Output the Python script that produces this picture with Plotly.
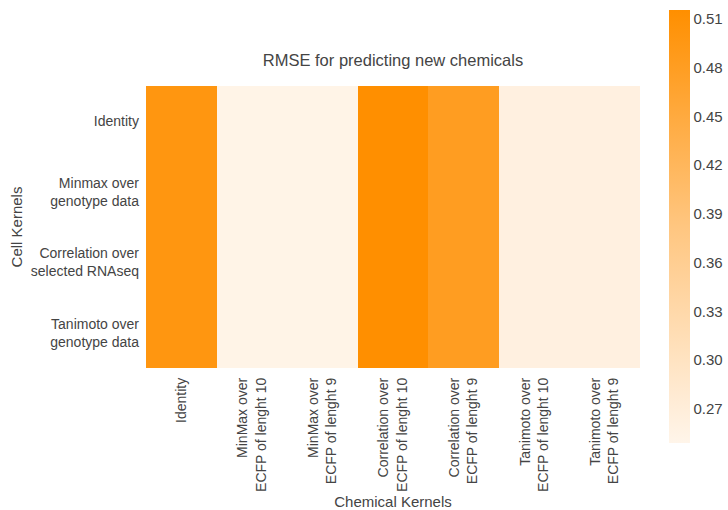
import plotly.graph_objects as go

chemical_kernels = [
    "Identity",
    "MinMax over<br>ECFP of lenght 10",
    "MinMax over<br>ECFP of lenght 9",
    "Correlation over<br>ECFP of lenght 10",
    "Correlation over<br>ECFP of lenght 9",
    "Tanimoto over<br>ECFP of lenght 10",
    "Tanimoto over<br>ECFP of lenght 9",
]
cell_kernels = [
    "Identity",
    "Minmax over<br>genotype data",
    "Correlation over<br>selected RNAseq",
    "Tanimoto over<br>genotype data",
]

# RMSE per (cell kernel, chemical kernel)
rmse_identity = [0.499, 0.253, 0.253, 0.515, 0.481, 0.262, 0.262]
rmse_minmax = [0.499, 0.253, 0.253, 0.515, 0.481, 0.262, 0.262]
rmse_correlation = [0.499, 0.253, 0.253, 0.515, 0.481, 0.262, 0.262]
rmse_tanimoto = [0.499, 0.253, 0.253, 0.515, 0.481, 0.262, 0.262]
rmse = [rmse_identity, rmse_minmax, rmse_correlation, rmse_tanimoto]

cbar_ticks = [0.27, 0.30, 0.33, 0.36, 0.39, 0.42, 0.45, 0.48, 0.51]

font_family = "Liberation Sans, Arial, sans-serif"
text_color = "#444444"

W, H = 728, 510
ml, mr, mt, mb = 146, 88, 86, 142
plot_h = H - mt - mb
plot_w = W - ml - mr

fig = go.Figure(
    go.Heatmap(
        z=rmse,
        x=chemical_kernels,
        y=cell_kernels,
        zmin=0.249,
        zmax=0.5155,
        colorscale=[[0.0, "#FFF5EA"], [0.5, "#FFC680"], [1.0, "#FF8F00"]],
        xgap=0,
        ygap=0,
        colorbar=dict(
            thickness=21,
            len=(443 - 10) / plot_h,
            lenmode="fraction",
            y=(H - mb - 10) / plot_h,
            yanchor="top",
            x=(669 - ml) / plot_w,
            xanchor="left",
            xpad=0,
            ypad=0,
            outlinewidth=0,
            ticks="",
            tickvals=cbar_ticks,
            ticktext=[f"{v:.2f}" for v in cbar_ticks],
            tickfont=dict(family=font_family, size=15, color=text_color),
        ),
        hovertemplate="%{y}<br>%{x}<br>RMSE %{z:.3f}<extra></extra>",
    )
)

fig.update_layout(
    width=W,
    height=H,
    margin=dict(l=ml, r=mr, t=mt, b=mb, autoexpand=False),
    paper_bgcolor="white",
    plot_bgcolor="white",
    font=dict(family=font_family, color=text_color, size=14),
    title=dict(
        text="RMSE for predicting new chemicals",
        x=(ml + plot_w / 2) / W,
        xanchor="center",
        y=1 - 60 / H,
        yanchor="middle",
        font=dict(family=font_family, size=16.5, color=text_color),
    ),
    xaxis=dict(
        title=dict(text="Chemical Kernels", font=dict(size=15, color=text_color), standoff=6),
        tickangle=-90,
        automargin=False,
        showgrid=False,
        zeroline=False,
        showline=False,
        ticks="",
        ticklabelstandoff=6,
        tickfont=dict(size=14, color=text_color),
    ),
    yaxis=dict(
        title=dict(text="Cell Kernels", font=dict(size=15, color=text_color), standoff=4),
        autorange="reversed",
        automargin=False,
        showgrid=False,
        zeroline=False,
        showline=False,
        ticks="",
        ticklabelstandoff=6,
        tickfont=dict(size=14, color=text_color),
    ),
)

fig.write_html("out.html")
